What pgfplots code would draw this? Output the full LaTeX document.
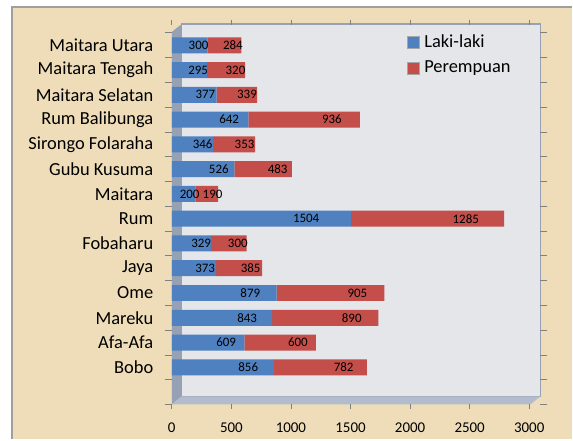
\documentclass[border=0pt]{standalone}
\usepackage{pgfplots}
\pgfplotsset{compat=1.18}
\usepackage{fontspec}
\setmainfont{Carlito}
\definecolor{parch}{RGB}{238,221,184}
\definecolor{wall}{RGB}{229,230,234}
\definecolor{side}{RGB}{150,162,180}
\definecolor{sidelight}{RGB}{178,188,204}
\definecolor{blueF}{RGB}{79,129,193}
\definecolor{redF}{RGB}{196,78,74}
\begin{document}
\begin{tikzpicture}
\fill[white] (0,0) rectangle (573bp,440bp);
\fill[parch] (12bp,0) rectangle (573bp,433bp);
\draw[gray!75, line width=1.5bp] (12bp,0) -- (12bp,433bp) -- (573bp,433bp);
% 3D walls
\fill[wall] (182bp,43bp) rectangle (541bp,416bp);
\draw[side, line width=1.2bp] (182bp,43bp) rectangle (541bp,416bp);
\fill[side] (172bp,35bp) -- (182bp,43bp) -- (182bp,416bp) -- (172bp,408bp) -- cycle;
\fill[sidelight] (172bp,35bp) -- (531bp,35bp) -- (541bp,43bp) -- (182bp,43bp) -- cycle;
\begin{axis}[
  at={(172bp,35bp)}, anchor=south west,
  scale only axis, width=369bp, height=380bp,
  xbar stacked, bar width=16bp,
  xmin=0, xmax=3093, ymin=-1.5, ymax=13.82,
  axis line style={draw=none},
  /pgf/number format/1000 sep={},
  /pgf/number format/assume math mode=true,
  xtick={0,500,...,3000},
  ytick={0,...,13},
  yticklabels={Bobo,Afa-Afa,Mareku,Ome,Jaya,Fobaharu,Rum,Maitara,Gubu Kusuma,Sirongo Folaraha,Rum Balibunga,Maitara Selatan,Maitara Tengah,Maitara Utara},
  minor ytick={-1.5,-0.5,...,13.5},
  tick align=outside,
  major tick length=5bp,
  minor tick length=7bp,
  every major y tick/.append style={draw=none},
  every minor y tick/.append style={gray, line width=0.8bp},
  every major x tick/.append style={gray, line width=0.8bp},
  x tick label style={font=\fontsize{15}{15}\selectfont, yshift=-10bp},
  y tick label style={font=\fontsize{18.5}{19}\selectfont, xshift=-10bp},
  point meta=rawx,
  visualization depends on={rawx \as \rawx},
  nodes near coords,
  every node near coord/.append style={font=\fontsize{13}{13}\selectfont, text=black, anchor=center, shift={(axis direction cs:\rawx/4,0)}},
  legend style={at={(0.63,0.985)}, anchor=north west, draw=none, fill=none, font=\fontsize{18.5}{20}\selectfont, row sep=8bp, cells={anchor=west}},
  legend image code/.code={\path[#1, draw=black!35] (0bp,-6bp) rectangle (12bp,6bp); \path (15bp,0bp);},
]
\addplot[draw=none, fill=blueF] coordinates {
(856,0) (609,1) (843,2) (879,3) (373,4) (329,5) (1504,6) (200,7) (526,8) (346,9) (642,10) (377,11) (295,12) (300,13)};
\addlegendentry{Laki-laki}
\addplot[draw=none, fill=redF] coordinates {
(782,0) (600,1) (890,2) (905,3) (385,4) (300,5) (1285,6) (190,7) (483,8) (353,9) (936,10) (339,11) (320,12) (284,13)};
\addlegendentry{Perempuan}
\end{axis}
\end{tikzpicture}
\end{document}
